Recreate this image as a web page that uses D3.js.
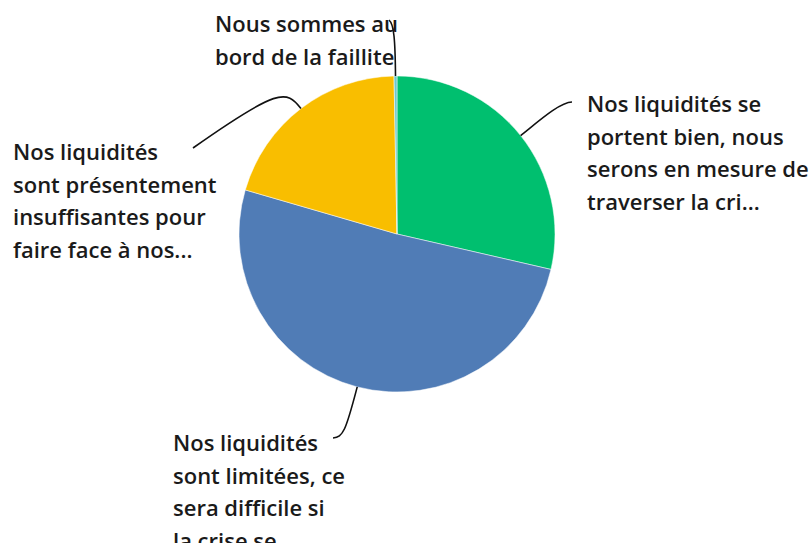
<!DOCTYPE html>
<html lang="fr">
    <head>
        <meta charset="utf-8">
        <title>Liquidités</title>
        <script type="text/javascript" src="https://d3js.org/d3.v7.min.js"></script>
        <style>
            body { margin: 0; background: #fff; }
            svg { display: block; }
            .label text {
                font-family: "Open Sans", sans-serif;
                font-weight: 600;
                font-size: 22px;
                fill: #1a1a1a;
            }
        </style>
    </head>
    <body>
        <script>
            // data
            const categories = [
                "Nos liquidités se portent bien, nous serons en mesure de traverser la cri...",
                "Nos liquidités sont limitées, ce sera difficile si la crise se...",
                "Nos liquidités sont présentement insuffisantes pour faire face à nos...",
                "Nous sommes au bord de la faillite"
            ];
            const values = [28.6, 50.9, 20.2, 0.3];
            const colors = ["#00bf6f", "#507cb6", "#f9be00", "#6bc8cd"];
            // wrapped label lines, as shown
            const labelLines = [
                ["Nos liquidités se", "portent bien, nous", "serons en mesure de", "traverser la cri..."],
                ["Nos liquidités", "sont limitées, ce", "sera difficile si", "la crise se"],
                ["Nos liquidités", "sont présentement", "insuffisantes pour", "faire face à nos..."],
                ["Nous sommes au", "bord de la faillite"]
            ];

            const w = 809;
            const h = 543;
            const cx = 397, cy = 234, r = 158;
            const lineH = 32.5;

            // label placement: text anchor (left, first baseline) and leader end
            const labelPos = [
                {x: 587, y: 112, end: [572, 102], out: 22, bend: [560, 102]},
                {x: 173, y: 451, end: [333, 438], out: 46, bend: [343, 437]},
                {x: 13,  y: 160, end: [193, 148], out: 24, bend: [278, 88]},
                {x: 215, y: 32,  end: [389, 20],  out: 36, bend: [394, 24]}
            ];

            const svg = d3.select("body")
                        .append("svg")
                        .attr("width", w)
                        .attr("height", h);

            const pie = d3.pie().sort(null).value(d => d);
            const arcs = pie(values);
            const arc = d3.arc().innerRadius(0).outerRadius(r);
            const edge = d3.arc().innerRadius(r).outerRadius(r);

            const g = svg.append("g")
                .attr("transform", `translate(${cx},${cy})`);

            g.selectAll("path.slice")
                .data(arcs)
                .enter()
                .append("path")
                .attr("class", "slice")
                .attr("d", arc)
                .attr("fill", (d, i) => colors[i])
                .attr("stroke", "#fff")
                .attr("stroke-width", 0.5);

            // leader lines
            svg.append("g")
                .selectAll("path")
                .data(arcs)
                .enter()
                .append("path")
                .attr("fill", "none")
                .attr("stroke", "#111")
                .attr("stroke-width", 1.6)
                .attr("d", function(d, i) {
                    const p = edge.centroid(d);
                    const a = (d.startAngle + d.endAngle) / 2;
                    const x0 = cx + p[0], y0 = cy + p[1];
                    const lp = labelPos[i];
                    const x1 = x0 + Math.sin(a) * lp.out, y1 = y0 - Math.cos(a) * lp.out;
                    const path = d3.path();
                    path.moveTo(x0, y0);
                    path.bezierCurveTo(x1, y1, lp.bend[0], lp.bend[1], lp.end[0], lp.end[1]);
                    return path.toString();
                });

            // labels
            const labels = svg.append("g")
                .attr("class", "label")
                .selectAll("text")
                .data(labelLines)
                .enter()
                .append("text")
                .attr("x", (d, i) => labelPos[i].x)
                .attr("y", (d, i) => labelPos[i].y);

            labels.selectAll("tspan")
                .data((d, i) => d.map(t => ({t: t, i: i})))
                .enter()
                .append("tspan")
                .attr("x", d => labelPos[d.i].x)
                .attr("dy", (d, j) => j === 0 ? 0 : lineH)
                .text(d => d.t);
        </script>
    </body>
</html>
